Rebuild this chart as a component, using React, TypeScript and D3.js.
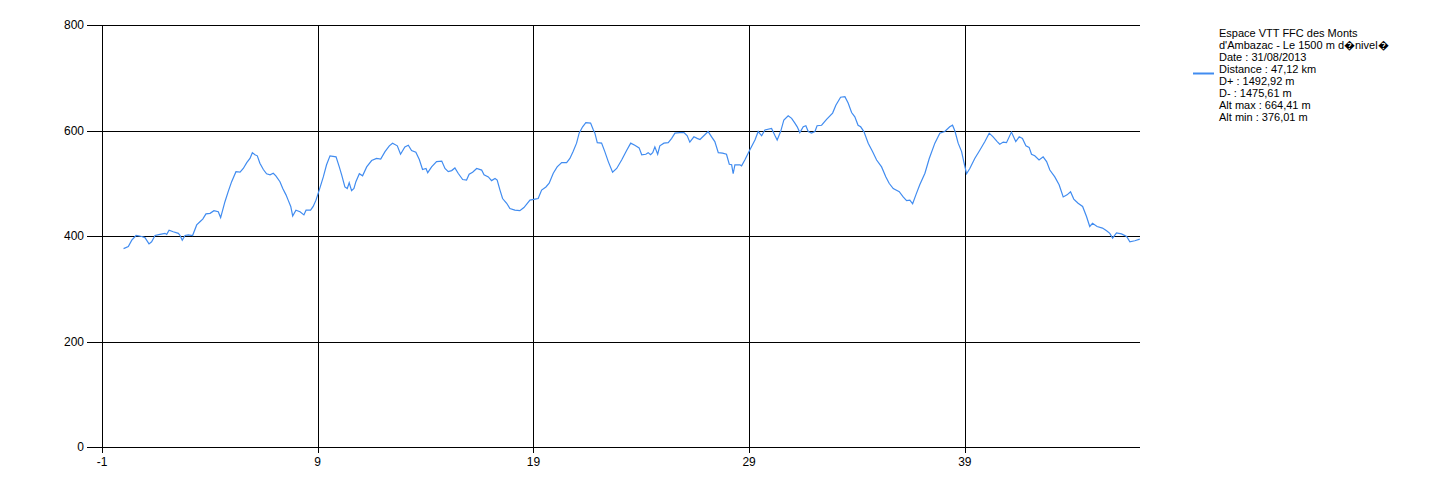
import React from "react";
import * as d3 from "d3";

const distanceKm: number[] = [
  0.0, 0.22, 0.38, 0.58, 0.84, 0.99, 1.18, 1.3, 1.46, 1.69, 1.92, 2.0, 2.11, 2.3, 2.54, 2.62, 2.72, 2.85, 3.0, 3.2,
  3.39, 3.54, 3.67, 3.82, 4.01, 4.19, 4.39, 4.5, 4.7, 4.85, 5.01, 5.21, 5.4, 5.55, 5.71, 5.86, 5.97, 6.09, 6.2, 6.32,
  6.48, 6.63, 6.79, 6.94, 7.06, 7.25, 7.38, 7.53, 7.63, 7.75, 7.84, 7.99, 8.18, 8.36, 8.46, 8.67, 8.79, 8.92, 9.07, 9.26,
  9.41, 9.57, 9.85, 10.0, 10.11, 10.26, 10.37, 10.46, 10.57, 10.68, 10.77, 10.93, 11.08, 11.27, 11.5, 11.73, 11.92, 12.12, 12.32, 12.47,
  12.69, 12.84, 13.04, 13.2, 13.35, 13.55, 13.71, 13.86, 14.02, 14.1, 14.28, 14.51, 14.75, 14.9, 15.05, 15.21, 15.36, 15.51, 15.72, 15.9,
  16.02, 16.18, 16.37, 16.6, 16.71, 16.91, 17.06, 17.22, 17.32, 17.45, 17.57, 17.76, 17.91, 18.14, 18.37, 18.56, 18.84, 19.07, 19.22, 19.38,
  19.58, 19.73, 19.92, 20.1, 20.31, 20.54, 20.69, 20.84, 21.0, 21.12, 21.28, 21.43, 21.65, 21.77, 21.85, 21.96, 22.16, 22.31, 22.47, 22.67,
  22.86, 23.09, 23.32, 23.51, 23.7, 23.9, 24.02, 24.21, 24.32, 24.43, 24.53, 24.63, 24.76, 24.86, 25.05, 25.25, 25.41, 25.56, 25.79, 25.98,
  26.13, 26.25, 26.44, 26.59, 26.72, 26.9, 27.1, 27.26, 27.41, 27.57, 27.77, 27.95, 28.08, 28.19, 28.26, 28.34, 28.57, 28.65, 28.8, 29.03,
  29.27, 29.42, 29.58, 29.73, 30.04, 30.19, 30.3, 30.46, 30.61, 30.81, 30.97, 31.12, 31.23, 31.35, 31.51, 31.63, 31.74, 31.89, 32.05, 32.15,
  32.36, 32.59, 32.87, 33.02, 33.24, 33.44, 33.59, 33.75, 33.9, 34.05, 34.17, 34.32, 34.52, 34.72, 34.91, 35.14, 35.34, 35.49, 35.68, 35.96,
  36.14, 36.3, 36.45, 36.58, 36.73, 36.91, 37.15, 37.35, 37.61, 37.84, 38.07, 38.3, 38.43, 38.54, 38.69, 38.85, 38.95, 39.08, 39.23, 39.46,
  39.7, 39.93, 40.13, 40.31, 40.5, 40.62, 40.78, 40.93, 41.16, 41.36, 41.52, 41.67, 41.83, 41.98, 42.09, 42.24, 42.44, 42.63, 42.79, 42.94,
  43.17, 43.37, 43.56, 43.74, 43.9, 44.05, 44.25, 44.46, 44.64, 44.79, 44.92, 45.13, 45.38, 45.57, 45.72, 45.85, 46.03, 46.26, 46.5, 46.65,
  46.88, 47.11,
];

const altitudeM: number[] = [
  376, 380, 392, 401, 399, 397, 385, 389, 401, 403, 405, 403, 411, 408, 405, 401, 392, 401, 402, 401,
  421, 427, 432, 442, 443, 448, 446, 435, 465, 484, 503, 522, 521, 528, 539, 547, 558, 554, 552, 538,
  526, 518, 516, 519, 514, 503, 490, 478, 468, 456, 438, 449, 446, 440, 449, 449, 456, 468, 487, 512,
  535, 552, 550, 531, 516, 493, 490, 501, 486, 490, 503, 518, 514, 531, 543, 547, 546, 560, 571, 576,
  571, 555, 569, 572, 562, 559, 545, 526, 528, 520, 531, 541, 542, 528, 522, 524, 529, 519, 507, 506,
  517, 521, 528, 525, 516, 512, 505, 509, 506, 487, 471, 462, 452, 449, 448, 454, 468, 470, 471, 487,
  493, 500, 519, 531, 539, 539, 547, 560, 576, 595, 607, 615, 614, 602, 595, 577, 576, 560, 541, 521,
  528, 544, 562, 576, 572, 567, 554, 555, 558, 554, 558, 569, 555, 571, 576, 577, 585, 595, 596, 596,
  590, 578, 588, 585, 583, 590, 598, 588, 579, 558, 557, 555, 536, 535, 518, 535, 535, 533, 544, 563,
  582, 598, 590, 601, 604, 591, 582, 598, 620, 628, 623, 614, 607, 596, 607, 609, 598, 595, 598, 609,
  610, 621, 633, 648, 663, 664, 652, 634, 626, 610, 607, 598, 576, 560, 544, 531, 512, 500, 490, 484,
  474, 467, 468, 461, 478, 497, 519, 547, 576, 595, 598, 607, 610, 599, 576, 560, 541, 518, 528, 547,
  563, 579, 595, 588, 579, 574, 578, 577, 597, 579, 588, 585, 571, 568, 555, 552, 544, 550, 541, 525,
  512, 497, 474, 478, 484, 470, 462, 456, 437, 418, 424, 418, 415, 410, 405, 396, 406, 404, 399, 389,
  391, 394,
];

const xTicks: number[] = [-1, 9, 19, 29, 39];
const yTicks: number[] = [0, 200, 400, 600, 800];

const legendLines: string[] = [
  "Espace VTT FFC des Monts",
  "d'Ambazac - Le 1500 m d\uFFFDnivel\uFFFD",
  "Date : 31/08/2013",
  "Distance : 47,12 km",
  "D+ : 1492,92 m",
  "D- : 1475,61 m",
  "Alt max : 664,41 m",
  "Alt min : 376,01 m",
];

const W = 1435;
const H = 496;
const left = 102;
const right = 1140;
const top = 25;
const bottom = 447;
const font = "'Liberation Sans', Arial, sans-serif";

export default function App() {
  const x = d3.scaleLinear().domain([-1, 47.12]).range([left, right]);
  const y = d3.scaleLinear().domain([0, 800]).range([bottom, top]);
  const pts: [number, number][] = distanceKm.map((d, i) => [d, altitudeM[i]]);
  const line = d3
    .line<[number, number]>()
    .x((d) => x(d[0]))
    .y((d) => y(d[1]));
  const snap = (v: number) => Math.round(v) + 0.5;

  return (
    <svg
      width={W}
      height={H}
      style={{ position: "absolute", left: 0, top: 0, background: "#fff" }}
      fontFamily={font}
    >
      <rect x={0} y={0} width={W} height={H} fill="#fff" />
      {/* horizontal grid + y ticks */}
      {yTicks.map((t) => (
        <g key={"y" + t}>
          <line x1={87} x2={right} y1={snap(y(t))} y2={snap(y(t))} stroke="#000" strokeWidth={1} />
          <text x={84} y={y(t)} dy="0.35em" textAnchor="end" fontSize={12} fill="#000">
            {t}
          </text>
        </g>
      ))}
      {/* vertical grid + x ticks */}
      {xTicks.map((t) => (
        <g key={"x" + t}>
          <line x1={snap(x(t))} x2={snap(x(t))} y1={top} y2={bottom + 6} stroke="#000" strokeWidth={1} />
          <text x={x(t)} y={462} dy="0.35em" textAnchor="middle" fontSize={12} fill="#000">
            {t}
          </text>
        </g>
      ))}
      <path d={line(pts) || ""} fill="none" stroke="#418CF0" strokeWidth={1.2} />
      {/* legend */}
      <line x1={1193} x2={1214} y1={73.5} y2={73.5} stroke="#418CF0" strokeWidth={2} />
      {legendLines.map((s, i) => (
        <text key={i} x={1219} y={33 + i * 12} dy="0.35em" fontSize={11} fill="#000">
          {s}
        </text>
      ))}
    </svg>
  );
}
